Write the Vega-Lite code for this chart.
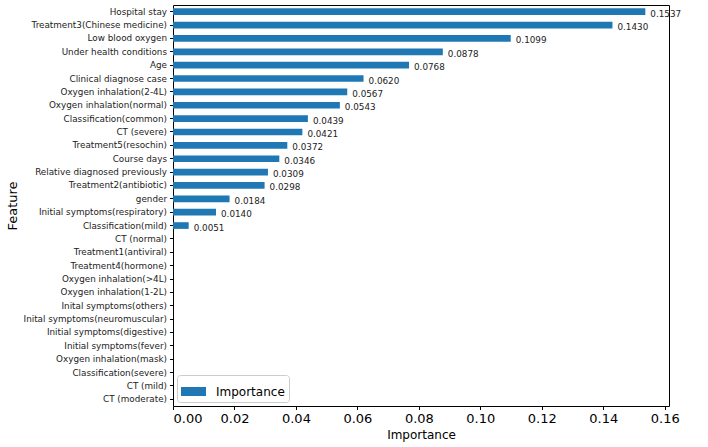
{
  "$schema": "https://vega.github.io/schema/vega-lite/v6.json",
  "width": 496,
  "height": 401,
  "autosize": {"type": "none"},
  "padding": {"left": 173, "top": 5, "right": 39, "bottom": 41},
  "background": "white",
  "config": {
    "font": "DejaVu Sans",
    "view": {"stroke": "black", "strokeWidth": 1}
  },
  "data": {
    "values": [
      {"Feature": "Hospital stay", "Importance": 0.1537},
      {"Feature": "Treatment3(Chinese medicine)", "Importance": 0.1430},
      {"Feature": "Low blood oxygen", "Importance": 0.1099},
      {"Feature": "Under health conditions", "Importance": 0.0878},
      {"Feature": "Age", "Importance": 0.0768},
      {"Feature": "Clinical diagnose case", "Importance": 0.0620},
      {"Feature": "Oxygen inhalation(2-4L)", "Importance": 0.0567},
      {"Feature": "Oxygen inhalation(normal)", "Importance": 0.0543},
      {"Feature": "Classification(common)", "Importance": 0.0439},
      {"Feature": "CT (severe)", "Importance": 0.0421},
      {"Feature": "Treatment5(resochin)", "Importance": 0.0372},
      {"Feature": "Course days", "Importance": 0.0346},
      {"Feature": "Relative diagnosed previously", "Importance": 0.0309},
      {"Feature": "Treatment2(antibiotic)", "Importance": 0.0298},
      {"Feature": "gender", "Importance": 0.0184},
      {"Feature": "Initial symptoms(respiratory)", "Importance": 0.0140},
      {"Feature": "Classification(mild)", "Importance": 0.0051},
      {"Feature": "CT (normal)", "Importance": 0},
      {"Feature": "Treatment1(antiviral)", "Importance": 0},
      {"Feature": "Treatment4(hormone)", "Importance": 0},
      {"Feature": "Oxygen inhalation(>4L)", "Importance": 0},
      {"Feature": "Oxygen inhalation(1-2L)", "Importance": 0},
      {"Feature": "Inital symptoms(others)", "Importance": 0},
      {"Feature": "Inital symptoms(neuromuscular)", "Importance": 0},
      {"Feature": "Initial symptoms(digestive)", "Importance": 0},
      {"Feature": "Initial symptoms(fever)", "Importance": 0},
      {"Feature": "Oxygen inhalation(mask)", "Importance": 0},
      {"Feature": "Classification(severe)", "Importance": 0},
      {"Feature": "CT (mild)", "Importance": 0},
      {"Feature": "CT (moderate)", "Importance": 0}
    ]
  },
  "encoding": {
    "y": {
      "field": "Feature",
      "type": "nominal",
      "sort": null,
      "scale": {"paddingInner": 0.5, "paddingOuter": 0.25},
      "axis": {
        "title": "Feature",
        "titleFontSize": 13,
        "titleFontWeight": "normal",
        "titleColor": "black",
        "titlePadding": 4,
        "labelFontSize": 8.8,
        "labelColor": "#222",
        "labelPadding": 3,
        "tickSize": 3.5,
        "tickColor": "black",
        "domain": false,
        "grid": false
      }
    },
    "x": {
      "field": "Importance",
      "type": "quantitative",
      "scale": {"domain": [0, 0.1614], "nice": false, "zero": true},
      "axis": {
        "title": "Importance",
        "titleFontSize": 12,
        "titleFontWeight": "normal",
        "titleColor": "black",
        "titlePadding": 4,
        "values": [0, 0.02, 0.04, 0.06, 0.08, 0.10, 0.12, 0.14, 0.16],
        "format": ".2f",
        "labelFontSize": 13,
        "labelColor": "black",
        "labelPadding": 3,
        "tickSize": 3.5,
        "tickColor": "black",
        "domain": false,
        "grid": false
      }
    }
  },
  "layer": [
    {
      "mark": {"type": "bar"},
      "encoding": {
        "color": {
          "datum": "Importance",
          "type": "nominal",
          "scale": {"range": ["#1f77b4"]},
          "legend": {
            "title": null,
            "orient": "bottom-left",
            "offset": 4,
            "labelFontSize": 12,
            "labelColor": "black",
            "symbolType": "M-1,-0.36H1V0.36H-1Z",
            "symbolSize": 625,
            "symbolStrokeWidth": 0,
            "symbolOpacity": 1,
            "padding": 4,
            "strokeColor": "#cccccc",
            "fillColor": "white",
            "cornerRadius": 3,
            "labelOffset": 10
          }
        }
      }
    },
    {
      "transform": [{"filter": "datum.Importance > 0"}],
      "mark": {"type": "text", "align": "left", "baseline": "middle", "dx": 5, "dy": 2, "fontSize": 8.8, "color": "#222"},
      "encoding": {
        "text": {"field": "Importance", "type": "quantitative", "format": ".4f"}
      }
    }
  ]
}
